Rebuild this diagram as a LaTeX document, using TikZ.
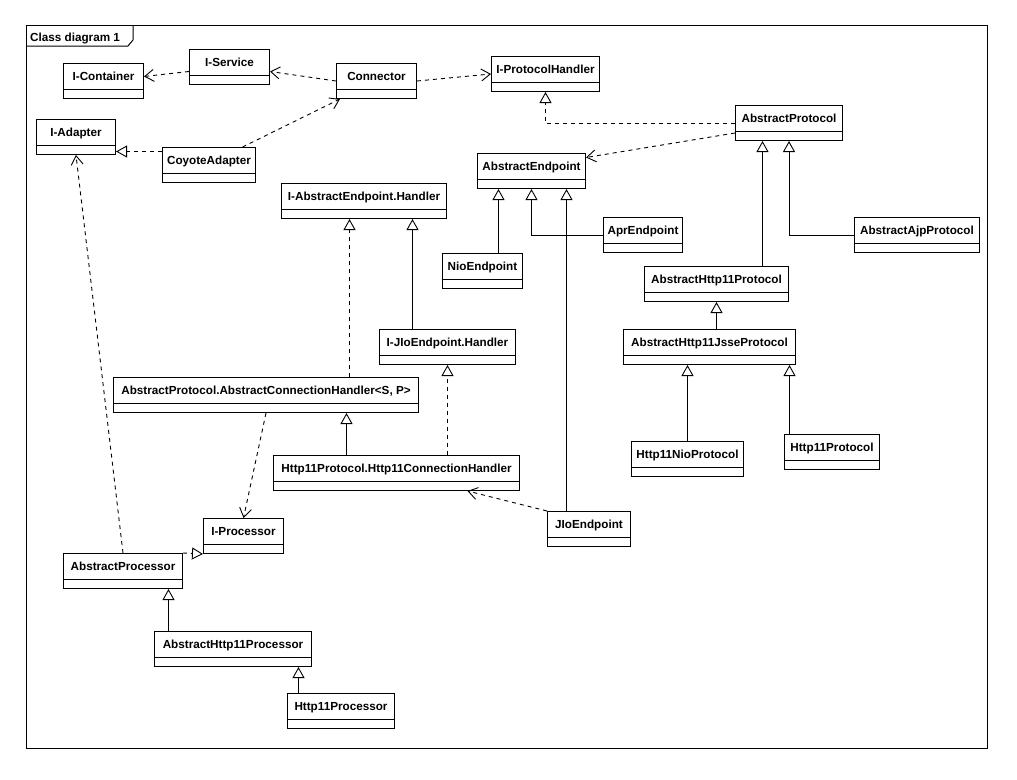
\documentclass[tikz,border=0pt]{standalone}
\usepackage{fontspec}
\setmainfont{Liberation Sans}
\usetikzlibrary{arrows.meta}
\newcommand{\classfont}{\fontsize{11.7}{14}\selectfont\bfseries}

\begin{document}
\begin{tikzpicture}[
        x=1pt, y=-1pt,
        cls/.style={draw, line width=1pt, anchor=north west, inner xsep=0pt,
                    inner ysep=0pt, text height=16.5pt, text depth=18.5pt,
                    font=\classfont,
                    path picture={\draw[line width=1pt]
                        ([yshift=9.5pt]path picture bounding box.south west) --
                        ([yshift=9.5pt]path picture bounding box.south east);}},
        dep/.style={draw, line width=0.9pt, dash pattern=on 4pt off 4pt,
                    -{Straight Barb[length=9pt,width=12pt]}},
        gen/.style={draw, line width=0.9pt, -{Triangle[open,length=11pt,width=12pt]}},
        real/.style={gen, dash pattern=on 4pt off 4pt}
    ]
        \useasboundingbox (0,0) rectangle (1017,779);
        \node[draw, line width=1pt, anchor=north west, minimum width=961pt,
              minimum height=723pt, inner sep=0pt] (frame) at (26,25) {};
        \draw[line width=1pt] (26,46) -- (128,46) -- (133,40) -- (133,25);
        \node[anchor=base west, inner sep=0pt, font=\classfont] (title) at (30,41) {Class diagram 1};

        % classes
        \node[cls, minimum width=80pt] (icontainer) at (63,63) {I-Container};
        \node[cls, minimum width=80pt] (iservice) at (189,49) {I-Service};
        \node[cls, minimum width=80pt] (connector) at (336,63) {Connector};
        \node[cls, minimum width=108pt] (iprotocolhandler) at (491,56) {I-ProtocolHandler};
        \node[cls, minimum width=79pt] (iadapter) at (36,119) {I-Adapter};
        \node[cls, minimum width=93pt] (coyoteadapter) at (162,147) {CoyoteAdapter};
        \node[cls, minimum width=107pt] (abstractprotocol) at (735,105) {AbstractProtocol};
        \node[cls, minimum width=108pt] (abstractendpoint) at (477,153) {AbstractEndpoint};
        \node[cls, minimum width=165pt] (iaehandler) at (281,183) {I-AbstractEndpoint.Handler};
        \node[cls, minimum width=80pt] (nioendpoint) at (442,253) {NioEndpoint};
        \node[cls, minimum width=79pt] (aprendpoint) at (603,217) {AprEndpoint};
        \node[cls, minimum width=125pt] (ajpprotocol) at (854,217) {AbstractAjpProtocol};
        \node[cls, minimum width=144pt] (ahttpprotocol) at (644,266) {AbstractHttp11Protocol};
        \node[cls, minimum width=172pt] (jsseprotocol) at (623,329) {AbstractHttp11JsseProtocol};
        \node[cls, minimum width=136pt] (jiohandler) at (379,329) {I-JIoEndpoint.Handler};
        \node[cls, minimum width=305pt] (connhandler) at (113,377) {AbstractProtocol.AbstractConnectionHandler<S, P>};
        \node[cls, minimum width=112pt] (nioprotocol) at (631,441) {Http11NioProtocol};
        \node[cls, minimum width=95pt] (httpprotocol) at (784,434) {Http11Protocol};
        \node[cls, minimum width=246pt] (httphandler) at (273,455) {Http11Protocol.Http11ConnectionHandler};
        \node[cls, minimum width=80pt] (iprocessor) at (203,518) {I-Processor};
        \node[cls, minimum width=83pt] (jioendpoint) at (547,511) {JIoEndpoint};
        \node[cls, minimum width=119pt] (aprocessor) at (63,553) {AbstractProcessor};
        \node[cls, minimum width=157pt] (ahttpprocessor) at (154,631) {AbstractHttp11Processor};
        \node[cls, minimum width=107pt] (httpprocessor) at (287,693) {Http11Processor};

        % dependencies
        \draw[dep] ([yshift=-4.5pt]iservice.west) -- ([yshift=4.5pt]icontainer.east);
        \draw[dep] (connector.west) -- ([yshift=-4.5pt]iservice.east);
        \draw[dep] (connector.east) -- (iprotocolhandler.west);
        \draw[dep] ([xshift=33.5pt]coyoteadapter.north) -- ([xshift=4pt]connector.south west);
        \draw[dep] ([yshift=-10pt]abstractprotocol.west) -- ([yshift=13.5pt]abstractendpoint.east);
        \draw[dep] (connhandler.south) -- (iprocessor.north);
        \draw[dep] (aprocessor.north) -- (iadapter.south);
        \draw[dep] (jioendpoint.north west) -- ([xshift=71pt]httphandler.south);

        % realizations
        \draw[real] ([yshift=13.5pt]coyoteadapter.west) -- ([yshift=-14.5pt]iadapter.east);
        \draw[real] (abstractprotocol.west) -| (iprotocolhandler.south);
        \draw[real] ([xshift=83.5pt]connhandler.north) -- ([xshift=83.5pt]connhandler.north |- iaehandler.south);
        \draw[real] (httphandler.north -| jiohandler.south) -- (jiohandler.south);
        \draw[real] (aprocessor.north east) -- (iprocessor.south west);

        % generalizations
        \draw[gen] ([xshift=46pt]ahttpprotocol.north) -- ([xshift=-26.5pt]abstractprotocol.south);
        \draw[gen] (ajpprotocol.west) -| (abstractprotocol.south);
        \draw[gen] (jsseprotocol.north -| ahttpprotocol.south) -- (ahttpprotocol.south);
        \draw[gen] (nioprotocol.north) -- (nioprotocol.north |- jsseprotocol.south);
        \draw[gen] ([xshift=-42.5pt]httpprotocol.north) -- ([xshift=-42.5pt]httpprotocol.north |- jsseprotocol.south);
        \draw[gen] ([xshift=16pt]nioendpoint.north) -- ([xshift=16pt]nioendpoint.north |- abstractendpoint.south);
        \draw[gen] (aprendpoint.west) -| (abstractendpoint.south);
        \draw[gen] ([xshift=-22.5pt]jioendpoint.north) -- ([xshift=-22.5pt]jioendpoint.north |- abstractendpoint.south);
        \draw[gen] ([xshift=-35pt]jiohandler.north) -- ([xshift=-35pt]jiohandler.north |- iaehandler.south);
        \draw[gen] ([xshift=-50pt]httphandler.north) -- ([xshift=-50pt]httphandler.north |- connhandler.south);
        \draw[gen] ([xshift=-64.5pt]ahttpprocessor.north) -- ([xshift=-64.5pt]ahttpprocessor.north |- aprocessor.south);
        \draw[gen] ([xshift=-42.5pt]httpprocessor.north) -- ([xshift=-42.5pt]httpprocessor.north |- ahttpprocessor.south);
    \end{tikzpicture}
\end{document}
